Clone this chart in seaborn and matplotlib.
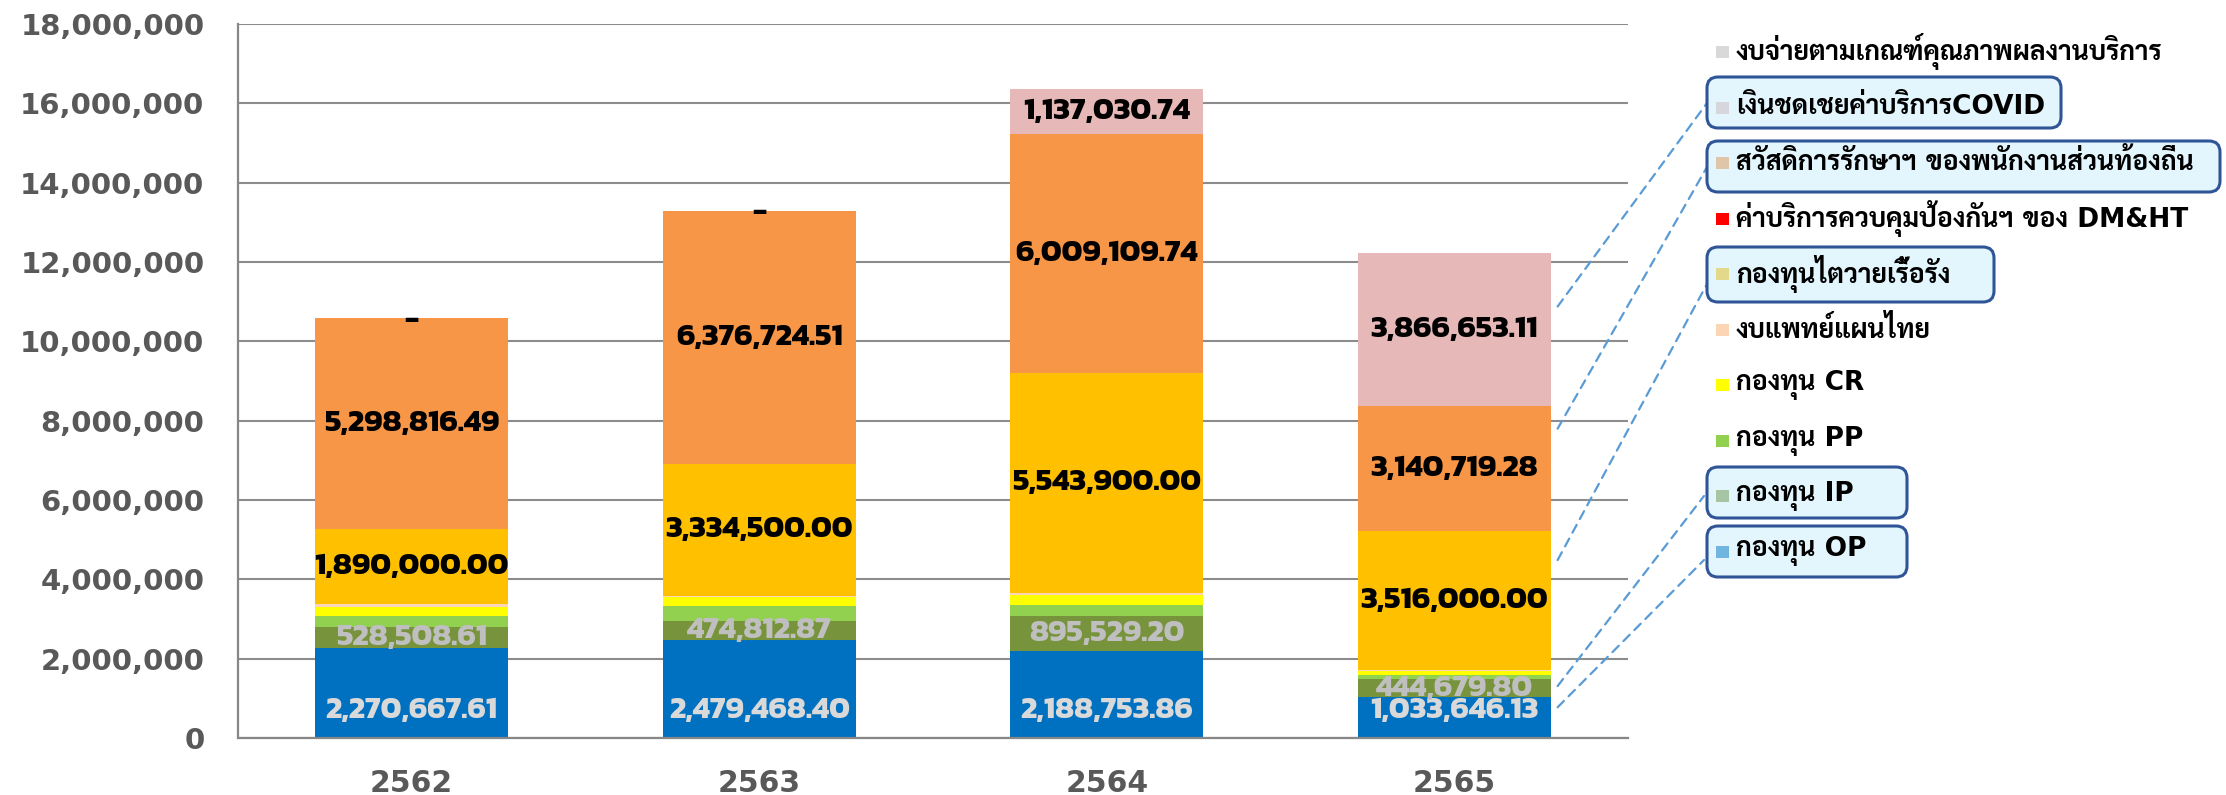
import numpy as np
import pandas as pd
import matplotlib.pyplot as plt
import seaborn as sns
from matplotlib.patches import Rectangle, FancyBboxPatch, ConnectionPatch
from matplotlib.transforms import IdentityTransform
from matplotlib.ticker import FuncFormatter

###########################
### DATA
###########################
years = ['2562', '2563', '2564', '2565']

# stacked bottom -> top
series_names = ['กองทุน OP', 'กองทุน IP', 'กองทุน PP', 'กองทุน CR', 'งบแพทย์แผนไทย',
                'กองทุนไตวายเรื้อรัง', 'ค่าบริการควบคุมป้องกันฯ ของ DM&HT',
                'สวัสดิการรักษาฯ ของพนักงานส่วนท้องถิ่น', 'เงินชดเชยค่าบริการCOVID',
                'งบจ่ายตามเกณฑ์คุณภาพผลงานบริการ']
op = [2270667.61, 2479468.40, 2188753.86, 1033646.13]
ip = [528508.61, 474812.87, 895529.20, 444679.80]
pp = [280000, 385000, 280000, 120000]
cr = [230000, 210000, 250000, 80000]
thai_med = [60000, 30000, 50000, 30000]
kidney = [1890000.00, 3334500.00, 5543900.00, 3516000.00]
dm_ht = [20000, 0, 0, 0]
local_staff = [5298816.49, 6376724.51, 6009109.74, 3140719.28]
covid = [0, 0, 1137030.74, 3866653.11]
quality = [0, 0, 0, 0]

colors = ['#0070C0', '#77933C', '#92D050', '#FFFF00', '#FCD5B5',
          '#FFC000', '#FF0000', '#F79646', '#E6B9B8', '#D9D9D9']

values = np.array([op, ip, pp, cr, thai_med, kidney, dm_ht, local_staff, covid, quality], dtype=float)
df = pd.DataFrame(values.T, columns=series_names)
df['year'] = years
cum = df[series_names].cumsum(axis=1)

###########################
### STYLE
###########################
W, H, DPI = 2226, 795, 100
sns.set_style("white")
plt.rcParams['font.family'] = ['DejaVu Sans', 'Sarabun', 'Noto Sans Thai']
label_font = 'Kanit'
axis_grey = '#878787'
tick_text = '#595959'

fig = plt.figure(figsize=(W / DPI, H / DPI), dpi=DPI)
ax = fig.add_axes([238 / W, 1 - 738 / H, (1628 - 238) / W, (738 - 24) / H])

bar_w = 0.555
# draw cumulative totals from the top layer down so lower layers overlay
for k in range(len(series_names) - 1, -1, -1):
    sns.barplot(x=df['year'], y=cum[series_names[k]], color=colors[k], saturation=1,
                width=bar_w, errorbar=None, ax=ax, zorder=3, linewidth=0)

ax.set_xlim(-0.5, 3.5)
ax.set_ylim(0, 18000000)
ax.set_xlabel('')
ax.set_ylabel('')

# grid / spines
ax.set_yticks(np.arange(0, 18000001, 2000000))
ax.yaxis.set_major_formatter(FuncFormatter(lambda v, p: f'{v:,.0f}'))
ax.grid(axis='y', color='#8C8C8C', linewidth=1.5, zorder=0)
ax.grid(axis='x', visible=False)
for s in ['top', 'right']:
    ax.spines[s].set_visible(False)
for s in ['left', 'bottom']:
    ax.spines[s].set_color(axis_grey)
    ax.spines[s].set_linewidth(1.6)
    ax.spines[s].set_zorder(4)

ax.set_xticks([-0.5, 0.5, 1.5, 2.5, 3.5])
ax.set_xticklabels([])
ax.set_xticks(range(len(years)), minor=True)
ax.set_xticklabels(years, minor=True, fontsize=21.5, fontweight='bold', color=tick_text)
ax.tick_params(axis='x', which='major', direction='out', length=8, width=1.6, color=axis_grey)
ax.tick_params(axis='x', which='minor', length=0, pad=22)
ax.tick_params(axis='y', direction='out', length=7.2, width=1.6, color=axis_grey, pad=17,
               labelsize=21, labelcolor=tick_text)
for t in ax.get_yticklabels():
    t.set_fontweight('bold')

###########################
### DATA LABELS
###########################
lab_fs = 22.5
for i in range(len(years)):
    # OP: inside base
    ax.annotate(f'{op[i]:,.2f}', xy=(i, 0), xytext=(0, 28), textcoords='offset pixels',
                ha='center', va='center', fontsize=lab_fs, fontweight='bold',
                family=label_font, color='#D9D9D9', zorder=6)
    # IP: centered
    ax.text(i, cum['กองทุน IP'][i] - ip[i] / 2, f'{ip[i]:,.2f}', ha='center', va='center',
            fontsize=lab_fs, fontweight='bold', family=label_font, color='#BFBFBF', zorder=6)
    for name, vals in [('กองทุนไตวายเรื้อรัง', kidney),
                       ('สวัสดิการรักษาฯ ของพนักงานส่วนท้องถิ่น', local_staff),
                       ('เงินชดเชยค่าบริการCOVID', covid)]:
        top = cum[name][i]
        if vals[i] > 0:
            ax.text(i, top - vals[i] / 2, f'{vals[i]:,.2f}', ha='center', va='center',
                    fontsize=lab_fs, fontweight='bold', family=label_font, color='black', zorder=6)
        elif name == 'เงินชดเชยค่าบริการCOVID':
            ax.annotate('-', xy=(i, top), xytext=(0, -3), textcoords='offset pixels',
                        ha='center', va='center', fontsize=lab_fs, fontweight='bold',
                        family=label_font, color='black', zorder=6)

###########################
### LEGEND (manual, Excel style)
###########################
px = IdentityTransform()
leg_y0, leg_step = 52, 55.5
leg_items = list(zip(series_names, colors))[::-1]
for j, (name, col) in enumerate(leg_items):
    yc = leg_y0 + j * leg_step
    fig.add_artist(Rectangle((1716, H - yc - 6), 13, 12, facecolor=col, edgecolor='none',
                             transform=px, zorder=2))
    fig.text(1736 / W, 1 - yc / H, name, ha='left', va='center', fontsize=19,
             fontweight='bold', color='black', zorder=8)

# callout boxes (x0, x1, y_top, y_bottom) in pixels
boxes = [(1707, 2061, 77, 128), (1707, 2220, 141, 192), (1707, 1994, 247, 302),
         (1707, 1907, 467, 518), (1707, 1907, 526, 577)]
for x0, x1, yt, yb in boxes:
    fig.add_artist(FancyBboxPatch((x0, H - yb), x1 - x0, yb - yt,
                                  boxstyle='round,pad=0,rounding_size=11',
                                  facecolor='#CDEFFC', alpha=0.55, edgecolor='none',
                                  transform=px, zorder=5))
    fig.add_artist(FancyBboxPatch((x0, H - yb), x1 - x0, yb - yt,
                                  boxstyle='round,pad=0,rounding_size=11',
                                  facecolor='none', edgecolor='#2F5597', linewidth=2.2,
                                  transform=px, zorder=6))

# dashed leader lines from 2565 bar segments to boxes
last = len(years) - 1
x_start = last + bar_w / 2 + 0.02
leaders = [('เงินชดเชยค่าบริการCOVID', covid, 0.65, (1707, 103)),
           ('สวัสดิการรักษาฯ ของพนักงานส่วนท้องถิ่น', local_staff, 0.82, (1707, 167)),
           ('กองทุนไตวายเรื้อรัง', kidney, 0.79, (1707, 284)),
           ('กองทุน IP', ip, 0.62, (1704, 496)),
           ('กองทุน OP', op, 0.75, (1704, 560))]
for name, vals, frac, (ex, ey) in leaders:
    y_start = cum[name][last] - vals[last] + frac * vals[last]
    con = ConnectionPatch(xyA=(x_start, y_start), coordsA=ax.transData,
                          xyB=(ex, H - ey), coordsB=px,
                          color='#5B9BD5', linewidth=1.6, linestyle=(0, (4, 3)), zorder=4)
    fig.add_artist(con)

fig.savefig('out.png', dpi=DPI)
plt.close()
